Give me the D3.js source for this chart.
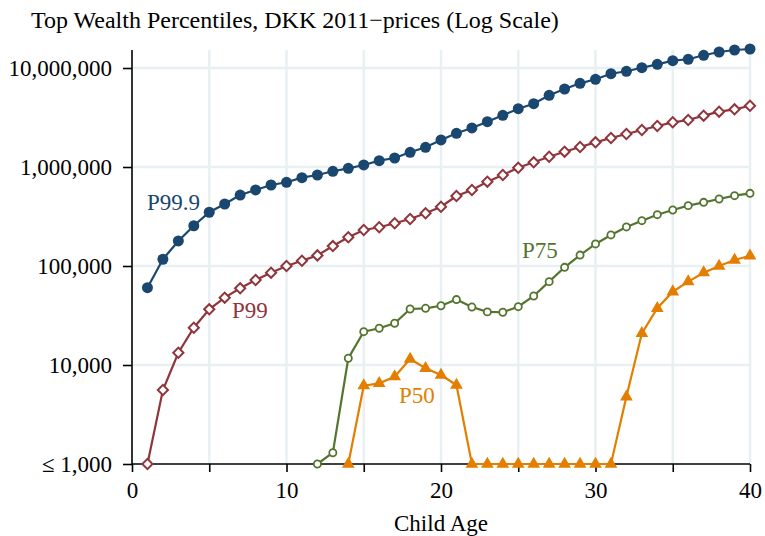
<!DOCTYPE html>
<html><head><meta charset="utf-8">
<script src="https://cdn.jsdelivr.net/npm/d3@7"></script>
<style>body{margin:0;background:#fff}svg{display:block}text{font-family:"Liberation Serif","Times New Roman",serif}</style>
</head><body><svg id="c" width="765" height="536"></svg>
<script>
const ages = d3.range(1, 41);
const p999 = [60400,117000,179000,255000,349000,423000,521000,586000,658000,701000,780000,830000,905000,970000,1048000,1158000,1233000,1407000,1581000,1875000,2190000,2478000,2869000,3328000,3882000,4362000,5300000,6137000,7003000,7689000,8756000,9264000,10070000,10890000,11850000,12250000,13440000,14510000,15200000,15560000];
const p99 = [1000,5590,13300,23800,36500,47900,59500,72200,85600,100000,113000,128000,159000,195000,231000,246000,270000,298000,341000,397000,509000,586000,711000,830000,984000,1115000,1271000,1428000,1592000,1775000,1963000,2153000,2364000,2595000,2828000,2983000,3299000,3620000,3822000,4159000];
const p75Ages = d3.range(12, 41);
const p75 = [1000,1300,11700,21700,23500,26400,36800,37400,39700,45800,38500,34400,34100,38800,49800,69500,97000,129000,167000,206000,248000,287000,330000,368000,407000,440000,475000,513000,542000];
const p50Ages = d3.range(14, 41);
const p50 = [1000,6180,6530,7620,11500,9260,7930,6280,1000,1000,1000,1000,1000,1000,1000,1000,1000,1000,4780,20900,37400,55000,69500,85600,100000,115000,127000];
const yTicks = [1000,10000,100000,1000000,10000000];
const yTickLabels = ["\u2264 1,000","10,000","100,000","1,000,000","10,000,000"];
const xTicks = [0,5,10,15,20,25,30,35,40];
const xLabels = [0,10,20,30,40];
const title = "Top Wealth Percentiles, DKK 2011\u2212prices (Log Scale)";
const xTitle = "Child Age";

const svg = d3.select("#c");
const L = 132, R = 750, T = 50, B = 464;
const x = d3.scaleLinear().domain([0, 40]).range([L, R]);
const y = d3.scaleLog().domain([1000, 15200000]).range([B, T]);
const grid = "#e9f0f2";

svg.append("g").selectAll("line").data(xTicks.filter(d => d > 0)).join("line")
  .attr("x1", d => x(d)).attr("x2", d => x(d)).attr("y1", T).attr("y2", B)
  .attr("stroke", grid).attr("stroke-width", 2.5);
svg.append("g").selectAll("line").data(yTicks.slice(1)).join("line")
  .attr("x1", L).attr("x2", R).attr("y1", d => y(d)).attr("y2", d => y(d))
  .attr("stroke", grid).attr("stroke-width", 2.5);

const yAxis = svg.append("g").attr("transform", `translate(${L},0)`)
  .call(d3.axisLeft(y).tickValues(yTicks).tickFormat((d, i) => yTickLabels[i]).tickSize(9).tickPadding(11));
yAxis.select(".domain").attr("d", `M0,${T}V${B}`).attr("stroke-width", 1.6);
yAxis.selectAll(".tick line").attr("stroke-width", 1.6);
yAxis.selectAll("text").attr("font-size", 23).attr("fill", "#000");

const xAxis = svg.append("g").attr("transform", `translate(0,${B})`)
  .call(d3.axisBottom(x).tickValues(xTicks).tickFormat(d => xLabels.includes(d) ? d : "").tickSize(8).tickPadding(10));
xAxis.select(".domain").attr("d", `M${L},0H${R}`).attr("stroke-width", 1.6);
xAxis.selectAll(".tick line").attr("stroke-width", 1.6);
xAxis.selectAll("text").attr("font-size", 23).attr("fill", "#000");

svg.append("text").attr("x", 31).attr("y", 28).attr("font-size", 24).text(title);
svg.append("text").attr("x", (L + R) / 2).attr("y", 531).attr("text-anchor", "middle").attr("font-size", 23).text(xTitle);

function series(xs, vs, color, sym, size, filled, sw, rot) {
  const pts = xs.map((a, i) => [a, vs[i]]);
  svg.append("path").datum(pts)
    .attr("d", d3.line().x(d => x(d[0])).y(d => y(d[1])))
    .attr("fill", "none").attr("stroke", color).attr("stroke-width", 2.2);
  svg.append("g").selectAll("path").data(pts).join("path")
    .attr("transform", d => `translate(${x(d[0])},${y(d[1])}) rotate(${rot})`)
    .attr("d", d3.symbol().type(sym).size(size))
    .attr("fill", filled ? color : "#fff").attr("stroke", color).attr("stroke-width", sw);
}
const blue = "#1a476f", red = "#90353b", green = "#55752f", orange = "#e37e00";
series(ages, p999, blue, d3.symbolCircle, 95, true, 0, 0);
series(ages, p99, red, d3.symbolSquare, 52, false, 2, 45);
series(p75Ages, p75, green, d3.symbolCircle, 40, false, 1.8, 0);
series(p50Ages, p50, orange, d3.symbolTriangle, 70, true, 0, 0);

const labs = [["P99.9", 147, 210, blue], ["P99", 232, 318, red], ["P75", 522, 258, green], ["P50", 399, 403, orange]];
svg.append("g").selectAll("text").data(labs).join("text")
  .attr("x", d => d[1]).attr("y", d => d[2]).attr("fill", d => d[3]).attr("font-size", 23).text(d => d[0]);
</script></body></html>
